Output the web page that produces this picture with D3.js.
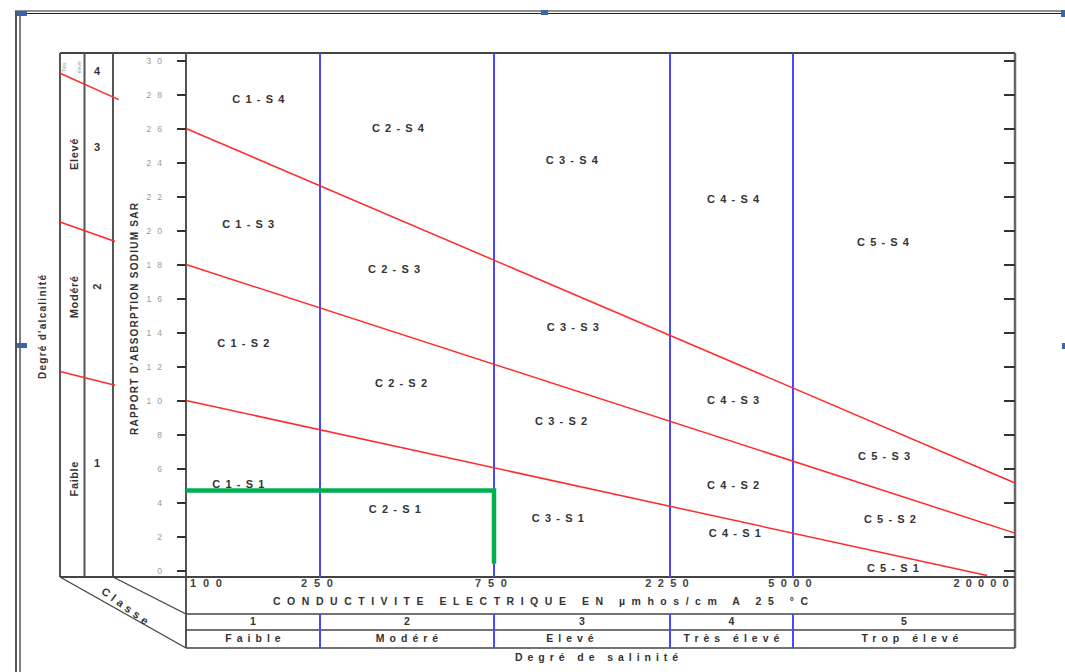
<!DOCTYPE html>
<html>
<head>
<meta charset="utf-8">
<script src="https://cdn.jsdelivr.net/npm/d3@7"></script>
<style>
body { margin: 0; background: #fff; }
svg { display: block; font-family: "Liberation Sans", Arial, sans-serif; }
</style>
</head>
<body>
<svg id="chart" width="1065" height="672"></svg>
<script>
// salinity (conductivity) axis, log scale in µmhos/cm
var condTicks = [100, 250, 750, 2250, 5000, 20000];
var classBreaks = [250, 750, 2250, 5000];
var salClasses = ["1", "2", "3", "4", "5"];
var salNames = ["Faible", "Modéré", "Elevé", "Très élevé", "Trop élevé"];
// sodium (SAR) axis
var sarTicks = d3.range(0, 31, 2);
// S1/S2, S2/S3, S3/S4 limits: [conductivity, SAR] ends
var sodiumLines = [
    [[100, 10], [16800, -0.3]],
    [[100, 18], [20000, 2.2]],
    [[100, 26], [20000, 5.15]]
];
// zone labels: [text, conductivity, SAR]
var zoneLabels = [
    ["C1-S4", 164, 27.7], ["C2-S4", 409, 26.0], ["C3-S4", 1219, 24.15], ["C4-S4", 3388, 21.85], ["C5-S4", 8770, 19.3],
    ["C1-S3", 153, 20.4], ["C2-S3", 399, 17.7], ["C3-S3", 1227, 14.3], ["C4-S3", 3388, 10.0], ["C5-S3", 8830, 6.7],
    ["C1-S2", 148, 13.4], ["C2-S2", 417, 11.0], ["C3-S2", 1140, 8.8], ["C4-S2", 3388, 5.0], ["C5-S2", 9160, 3.0],
    ["C1-S1", 143, 5.1], ["C2-S1", 401, 3.6], ["C3-S1", 1117, 3.1], ["C4-S1", 3428, 2.2], ["C5-S1", 9330, 0.15]
];
// sample reading (green): conductivity 750, SAR 4.7
var sample = [[100, 4.7], [750, 4.7], [750, 0.4]];
// alkalinity side panel: [panel position 0..1, SAR]
var alkaLines = [
    [[0, 29.25], [1.11, 27.7]],
    [[0, 20.5], [1.04, 19.35]],
    [[0, 11.7], [1.04, 10.9]]
];
var alkaNames = [["Faible", 5.4], ["Modéré", 16.1], ["Elevé", 24.5]];
var alkaClasses = [["1", 6.3], ["2", 16.7], ["3", 24.9], ["4", 29.4]];

var svg = d3.select("#chart");

var x = d3.scaleLog()
    .domain(condTicks)
    .range([186, 320, 494, 670, 793, 1015]);
var y = d3.scaleLinear().domain([0, 30]).range([570.5, 60.5]);
var xl = d3.scaleLinear().domain([0, 1]).range([60, 113]);

var boxTop = 53, boxBottom = 577, rowA = 614, rowB = 630, rowC = 648;
var ink = "#333";

// page frame (document borders + handles)
var page = svg.append("g");
page.append("line").attr("x1", 15).attr("x2", 1065).attr("y1", 11).attr("y2", 11).attr("stroke", "#222");
page.append("line").attr("x1", 15).attr("x2", 1065).attr("y1", 13.5).attr("y2", 13.5).attr("stroke", "#222");
page.append("line").attr("x1", 16).attr("x2", 16).attr("y1", 11).attr("y2", 672).attr("stroke", "#555").attr("stroke-width", 2);
page.append("line").attr("x1", 20).attr("x2", 20).attr("y1", 13).attr("y2", 672).attr("stroke", "#555").attr("stroke-width", 1.5);
[[17, 11, 10, 5], [541, 10, 7, 5], [1061, 10, 4, 7], [17, 343, 10, 5], [1062, 343, 3, 6]].forEach(function(h) {
    page.append("rect").attr("x", h[0]).attr("y", h[1]).attr("width", h[2]).attr("height", h[3]).attr("fill", "#3c64a8");
});

// frame
var frame = svg.append("g").attr("stroke", "#444").attr("fill", "none");
frame.append("line").attr("x1", 60).attr("x2", 1015).attr("y1", boxTop).attr("y2", boxTop).attr("stroke-width", 2);
[60, 84.5, 113].forEach(function(px) {
    frame.append("line").attr("x1", px).attr("x2", px).attr("y1", boxTop).attr("y2", boxBottom).attr("stroke", "#555").attr("stroke-width", 2);
});
frame.append("line").attr("x1", 1015).attr("x2", 1015).attr("y1", boxTop).attr("y2", rowC).attr("stroke", "#666").attr("stroke-width", 2.5);
frame.append("line").attr("x1", 186).attr("x2", 186).attr("y1", boxTop).attr("y2", rowC).attr("stroke", "#555").attr("stroke-width", 2);
frame.append("line").attr("x1", 60).attr("x2", 1015).attr("y1", boxBottom).attr("y2", boxBottom).attr("stroke-width", 2);
[rowA, rowB, rowC].forEach(function(py) {
    frame.append("line").attr("x1", 186).attr("x2", 1015).attr("y1", py).attr("y2", py).attr("stroke-width", 1.6);
});
frame.append("line").attr("x1", 60).attr("y1", boxBottom).attr("x2", 186).attr("y2", rowC).attr("stroke-width", 1.4);
frame.append("line").attr("x1", 113).attr("y1", boxBottom).attr("x2", 186).attr("y2", rowA).attr("stroke-width", 1.4);

// SAR axes
var yAxis = svg.append("g")
    .attr("transform", "translate(186,0)")
    .call(d3.axisLeft(y).tickValues(sarTicks).tickSize(9).tickPadding(9));
yAxis.select(".domain").remove();
yAxis.selectAll("line").attr("stroke", "#333").attr("stroke-width", 2);
yAxis.selectAll("text")
    .attr("fill", "#999")
    .attr("font-size", 8.5)
    .attr("font-family", "Liberation Sans, Arial, sans-serif")
    .attr("letter-spacing", 6);

var yAxisR = svg.append("g")
    .attr("transform", "translate(1015,0)")
    .call(d3.axisRight(y).tickValues(sarTicks).tickSize(-11).tickFormat(""));
yAxisR.select(".domain").remove();
yAxisR.selectAll("line").attr("stroke", "#333").attr("stroke-width", 2);

// salinity class limits
svg.append("g").selectAll("line")
    .data(classBreaks.flatMap(function(c) { return [[c, boxTop, boxBottom], [c, rowA, rowC]]; }))
    .join("line")
    .attr("x1", function(d) { return x(d[0]); })
    .attr("x2", function(d) { return x(d[0]); })
    .attr("y1", function(d) { return d[1]; })
    .attr("y2", function(d) { return d[2]; })
    .attr("stroke", "#4848ff")
    .attr("stroke-width", 2);

// sodium limits
svg.append("g").selectAll("line")
    .data(sodiumLines)
    .join("line")
    .attr("x1", function(d) { return x(d[0][0]); })
    .attr("y1", function(d) { return y(d[0][1]); })
    .attr("x2", function(d) { return x(d[1][0]); })
    .attr("y2", function(d) { return y(d[1][1]); })
    .attr("stroke", "#ff2a2a")
    .attr("stroke-width", 1.5);

svg.append("g").selectAll("line")
    .data(alkaLines)
    .join("line")
    .attr("x1", function(d) { return xl(d[0][0]); })
    .attr("y1", function(d) { return y(d[0][1]); })
    .attr("x2", function(d) { return xl(d[1][0]); })
    .attr("y2", function(d) { return y(d[1][1]); })
    .attr("stroke", "#ff2a2a")
    .attr("stroke-width", 1.5);

// sample point
svg.append("path")
    .datum(sample)
    .attr("d", d3.line().x(function(d) { return x(d[0]); }).y(function(d) { return y(d[1]); }))
    .attr("fill", "none")
    .attr("stroke", "#00b050")
    .attr("stroke-width", 4.5);

// zone labels
svg.append("g").selectAll("text")
    .data(zoneLabels)
    .join("text")
    .attr("x", function(d) { return x(d[1]); })
    .attr("y", function(d) { return y(d[2]); })
    .attr("dy", "0.35em")
    .attr("text-anchor", "middle")
    .attr("font-size", 11)
    .attr("font-weight", "bold")
    .attr("fill", ink)
    .attr("textLength", 52)
    .attr("lengthAdjust", "spacing")
    .text(function(d) { return d[0]; });

// conductivity tick labels
svg.append("g").selectAll("text")
    .data(condTicks)
    .join("text")
    .attr("x", function(d, i) { return x(d) + (i === 0 ? 20 : i === condTicks.length - 1 ? -34 : -3); })
    .attr("y", 583)
    .attr("dy", "0.35em")
    .attr("text-anchor", "middle")
    .attr("font-size", 11)
    .attr("font-weight", "bold")
    .attr("fill", "#444")
    .attr("textLength", function(d) { return String(d).length * 11.6 - 3; })
    .attr("lengthAdjust", "spacing")
    .text(function(d) { return d; });

svg.append("text")
    .attr("x", 273).attr("y", 601).attr("dy", "0.35em")
    .attr("font-size", 10.5).attr("font-weight", "bold").attr("fill", ink)
    .attr("textLength", 535).attr("lengthAdjust", "spacing")
    .text("CONDUCTIVITE ELECTRIQUE EN µmhos/cm A 25 °C");

// salinity class rows
var colMid = function(i) { return (x(condTicks[i]) + x(condTicks[i + 1])) / 2; };
svg.append("g").selectAll("text")
    .data(salClasses)
    .join("text")
    .attr("x", function(d, i) { return colMid(i); })
    .attr("y", 621).attr("dy", "0.35em")
    .attr("text-anchor", "middle")
    .attr("font-size", 10.5).attr("font-weight", "bold").attr("fill", ink)
    .text(function(d) { return d; });

svg.append("g").selectAll("text")
    .data(salNames)
    .join("text")
    .attr("x", function(d, i) { return colMid(i) + 2.5 + (i === 2 ? -12 : i === 4 ? 6 : 0); })
    .attr("y", 638).attr("dy", "0.35em")
    .attr("text-anchor", "middle")
    .attr("font-size", 10.5).attr("font-weight", "bold").attr("fill", ink)
    .attr("letter-spacing", 5)
    .text(function(d) { return d; });

svg.append("text")
    .attr("x", 515).attr("y", 657).attr("dy", "0.35em")
    .attr("font-size", 10.5).attr("font-weight", "bold").attr("fill", ink)
    .attr("textLength", 163).attr("lengthAdjust", "spacing")
    .text("Degré de salinité");

svg.append("text")
    .attr("transform", "translate(125,606) rotate(36)")
    .attr("text-anchor", "middle").attr("dy", "0.35em")
    .attr("font-size", 11).attr("font-weight", "bold").attr("fill", ink)
    .attr("textLength", 55).attr("lengthAdjust", "spacing")
    .text("Classe");

// vertical titles
svg.append("text")
    .attr("transform", "translate(42,327) rotate(-90)")
    .attr("text-anchor", "middle").attr("dy", "0.35em")
    .attr("font-size", 10).attr("font-weight", "bold").attr("fill", ink)
    .attr("textLength", 104).attr("lengthAdjust", "spacing")
    .text("Degré d'alcalinité");

svg.append("text")
    .attr("transform", "translate(134,319) rotate(-90)")
    .attr("text-anchor", "middle").attr("dy", "0.35em")
    .attr("font-size", 10).attr("font-weight", "bold").attr("fill", ink)
    .attr("textLength", 232).attr("lengthAdjust", "spacing")
    .text("RAPPORT D'ABSORPTION SODIUM SAR");

// alkalinity side panel labels
svg.append("g").selectAll("text")
    .data(alkaNames)
    .join("text")
    .attr("transform", function(d) { return "translate(74," + y(d[1]) + ") rotate(-90)"; })
    .attr("text-anchor", "middle").attr("dy", "0.35em")
    .attr("font-size", 11).attr("font-weight", "bold").attr("fill", ink)
    .attr("letter-spacing", 0.6)
    .text(function(d) { return d[0]; });

svg.append("g").selectAll("text")
    .data(alkaClasses)
    .join("text")
    .attr("transform", function(d) {
        return "translate(97," + y(d[1]) + ")" + (d[0] === "2" ? " rotate(-90)" : "");
    })
    .attr("text-anchor", "middle").attr("dy", "0.35em")
    .attr("font-size", 11).attr("font-weight", "bold").attr("fill", ink)
    .text(function(d) { return d[0]; });

svg.append("text")
    .attr("transform", "translate(64.5," + y(29.6) + ") rotate(-90)")
    .attr("text-anchor", "middle").attr("dy", "0.35em")
    .attr("font-size", 5).attr("fill", "#999")
    .text("Très");
svg.append("text")
    .attr("transform", "translate(79.5," + y(29.6) + ") rotate(-90)")
    .attr("text-anchor", "middle").attr("dy", "0.35em")
    .attr("font-size", 5).attr("fill", "#999")
    .text("élevé");
</script>
</body>
</html>
